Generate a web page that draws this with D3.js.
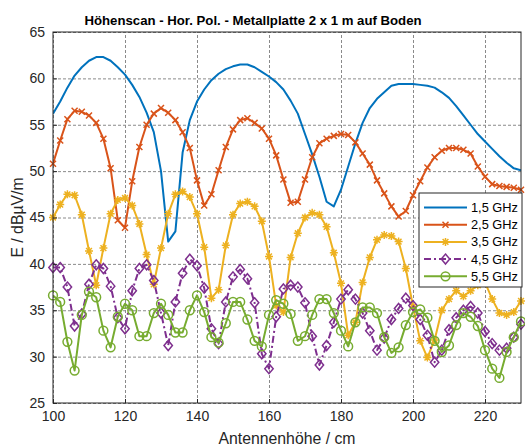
<!DOCTYPE html>
<html>
<head>
<meta charset="utf-8">
<script src="https://cdn.jsdelivr.net/npm/d3@7"></script>
<style>
  body { margin: 0; background: #fff; }
  svg { font-family: "Liberation Sans", Arial, sans-serif; }
</style>
</head>
<body>
<div class="chart"></div>
<script>
// antenna heights in cm
var heights = [100, 102, 104, 106, 108, 110, 112, 114, 116, 118, 120, 122, 124, 126, 128, 130, 132, 134, 136, 138,
  140, 142, 144, 146, 148, 150, 152, 154, 156, 158, 160, 162, 164, 166, 168, 170, 172, 174, 176, 178,
  180, 182, 184, 186, 188, 190, 192, 194, 196, 198, 200, 202, 204, 206, 208, 210, 212, 214, 216, 218,
  220, 222, 224, 226, 228, 230];

// field strength in dBuV/m per frequency
var e15 = [56.2, 57.5, 59, 60.3, 61.2, 61.9, 62.3, 62.3, 61.9, 61.2, 60.4, 59.3, 58, 56.3, 54.2, 50, 42.4, 43.5, 52, 55.5,
  57.5, 58.8, 59.8, 60.5, 61, 61.3, 61.5, 61.5, 61.2, 60.7, 60.2, 59.6, 58.8, 57.6, 56.2, 54, 51.8, 49.4, 46.7, 46.2,
  48, 50.5, 53, 55.2, 56.8, 57.8, 58.5, 59.2, 59.4, 59.4, 59.4, 59.3, 59.2, 59, 58.5, 57.9, 57, 56, 55, 54,
  53.2, 52.4, 51.6, 50.9, 50.3, 50.1];
var e25 = [50.8, 53.3, 55.6, 56.5, 56.4, 56, 55.2, 53.5, 50.3, 44.7, 43.9, 48.9, 52.6, 55, 56.2, 56.8, 56.3, 55.5, 54.2, 52.5,
  49, 46.3, 47.5, 50.1, 52.6, 54.5, 55.5, 55.7, 55.2, 54.6, 53.5, 51.7, 49.1, 46.6, 46.7, 49.1, 51.5, 53, 53.5, 53.8,
  54, 53.9, 53.1, 51.9, 50.7, 49, 47.6, 46.2, 45.1, 45.7, 47.4, 48.9, 50.4, 51.5, 52.2, 52.5, 52.5, 52.3, 51.9, 50.5,
  49.4, 48.6, 48.4, 48.3, 48.2, 48];
var e35 = [45, 46.4, 47.5, 47.4, 45.3, 41.4, 37.7, 41.7, 45.4, 46.9, 47.1, 46.3, 44.3, 41, 37.8, 41.7, 45.4, 47.5, 47.8, 47.2,
  45.4, 41.8, 36.3, 37.2, 42, 45.3, 46.5, 46.7, 46.2, 44.6, 40.8, 35.5, 34.8, 40.7, 43.3, 45, 45.5, 45.3, 44, 41.2,
  37.9, 32.3, 33.7, 38, 40.7, 42.6, 43.1, 43, 42.4, 39.5, 35.4, 31.7, 29.9, 31.8, 35, 36.2, 37.1, 36.5, 37.1, 37.7,
  38, 36.2, 34.7, 34.5, 34.8, 36];
var e45 = [39.6, 39.6, 37.5, 33.3, 34.6, 37.8, 39.9, 39.5, 37.6, 34.2, 33, 37.1, 39.5, 39.9, 38.2, 34.7, 31.2, 35.9, 39, 40.5,
  39.8, 37.4, 33, 31.4, 35.9, 38.6, 39.4, 38.4, 35.8, 30.3, 28.7, 34.3, 37.3, 37.7, 37.5, 35.8, 32.2, 29.1, 31.2, 33.7,
  36.2, 37.2, 36.2, 34.7, 32.8, 30.7, 32, 34, 35.2, 36.3, 35.5, 34, 32.3, 29.4, 30.7, 32.9, 34.2, 35, 35.4, 34.7,
  32.7, 31.4, 30.7, 30.9, 32.1, 33.5];
var e55 = [36.6, 35.9, 31.6, 28.5, 34.5, 37, 36.4, 32.8, 31, 34.3, 35.7, 35, 32.2, 32.2, 34.7, 35.7, 34.5, 32.6, 32.6, 35,
  36.6, 34.8, 32.1, 31.5, 33.6, 35.9, 35.9, 34, 31.7, 31.1, 34.5, 36.1, 35.7, 34.6, 31.7, 32.2, 34.5, 36.2, 36.2, 34.7,
  32.8, 31.1, 33.7, 35.3, 35.3, 34.7, 32.1, 30.4, 31, 33.4, 34.8, 35.1, 34.2, 31.7, 30.5, 31.2, 33.4, 34.7, 34.3, 33.3,
  30.7, 28.7, 27.7, 30.5, 32.1, 33.8];

var seriesNames = ["1,5 GHz", "2,5 GHz", "3,5 GHz", "4,5 GHz", "5,5 GHz"];
var xTicks = [100, 120, 140, 160, 180, 200, 220];
var yTicks = [25, 30, 35, 40, 45, 50, 55, 60, 65];

var svgWidth = 525;
var svgHeight = 448;
var margin = { top: 32, right: 4, bottom: 45, left: 53 };
var width = svgWidth - margin.left - margin.right;
var height = svgHeight - margin.top - margin.bottom;

// matlab default colours, markers and line styles
var colors = ["#0072BD", "#D95319", "#EDB120", "#7E2F8E", "#77AC30"];
var markers = ["none", "x", "star", "diamond", "circle"];
var dashes = [null, null, null, "7,3,2,3", null];
var allSeries = [e15, e25, e35, e45, e55];

var svg = d3.select(".chart")
  .append("svg")
  .attr("width", svgWidth)
  .attr("height", svgHeight);

var chartGroup = svg.append("g")
  .attr("transform", `translate(${margin.left}, ${margin.top})`);

var xScale = d3.scaleLinear().domain([100, 230]).range([0, width]);
var yScale = d3.scaleLinear().domain([25, 65]).range([height, 0]);

// dashed grid
chartGroup.append("g")
  .attr("transform", `translate(0, ${height})`)
  .call(d3.axisBottom(xScale).tickValues(xTicks).tickSize(-height).tickFormat(""))
  .call(g => g.select(".domain").remove())
  .call(g => g.selectAll("line").attr("stroke", "#8a8a8a").attr("stroke-dasharray", "3,2"));

chartGroup.append("g")
  .call(d3.axisLeft(yScale).tickValues(yTicks).tickSize(-width).tickFormat(""))
  .call(g => g.select(".domain").remove())
  .call(g => g.selectAll("line").attr("stroke", "#8a8a8a").attr("stroke-dasharray", "3,2"));

svg.append("defs").append("clipPath")
  .attr("id", "plotClip")
  .append("rect")
  .attr("width", width)
  .attr("height", height);

var line = d3.line()
  .x((d, i) => xScale(heights[i]))
  .y(d => yScale(d));

function drawMarker(g, type, color) {
  if (type === "x") {
    g.append("path").attr("d", "M-3,-3L3,3M-3,3L3,-3")
      .attr("stroke", color).attr("stroke-width", 1.5).attr("fill", "none");
  } else if (type === "star") {
    g.append("path").attr("d", "M-4,0L4,0M0,-4L0,4M-2.9,-2.9L2.9,2.9M-2.9,2.9L2.9,-2.9")
      .attr("stroke", color).attr("stroke-width", 1.5).attr("fill", "none");
  } else if (type === "diamond") {
    g.append("path").attr("d", "M0,-5L4.2,0L0,5L-4.2,0Z")
      .attr("stroke", color).attr("stroke-width", 1.5).attr("fill", "none");
  } else if (type === "circle") {
    g.append("circle").attr("r", 4.4)
      .attr("stroke", color).attr("stroke-width", 1.5).attr("fill", "none");
  }
}

allSeries.forEach(function(values, k) {
  var group = chartGroup.append("g");

  group.append("path")
    .datum(values)
    .attr("clip-path", "url(#plotClip)")
    .attr("fill", "none")
    .attr("stroke", colors[k])
    .attr("stroke-width", 2)
    .attr("stroke-linejoin", "round")
    .attr("stroke-dasharray", dashes[k])
    .attr("d", line);

  if (markers[k] !== "none") {
    group.selectAll(".mk")
      .data(values)
      .enter()
      .append("g")
      .attr("transform", (d, i) => `translate(${xScale(heights[i])}, ${yScale(d)})`)
      .each(function() { drawMarker(d3.select(this), markers[k], colors[k]); });
  }
});

// box and tick labels
chartGroup.append("rect")
  .attr("width", width)
  .attr("height", height)
  .attr("fill", "none")
  .attr("stroke", "#262626")
  .attr("stroke-width", 1);

var xAxis = chartGroup.append("g")
  .attr("transform", `translate(0, ${height})`)
  .call(d3.axisBottom(xScale).tickValues(xTicks).tickSize(-4).tickPadding(8));
var yAxis = chartGroup.append("g")
  .call(d3.axisLeft(yScale).tickValues(yTicks).tickSize(-4).tickPadding(8));

[xAxis, yAxis].forEach(function(ax) {
  ax.select(".domain").remove();
  ax.selectAll("line").attr("stroke", "#262626");
  ax.selectAll("text")
    .attr("fill", "#262626")
    .style("font-size", "14px")
    .style("font-family", "Liberation Sans, Arial, sans-serif");
});

// title and axis labels
svg.append("text")
  .attr("x", 253)
  .attr("y", 25)
  .attr("text-anchor", "middle")
  .style("font-size", "13.2px")
  .style("font-weight", "bold")
  .attr("fill", "#000")
  .text("Höhenscan - Hor. Pol. - Metallplatte 2 x 1 m auf Boden");

svg.append("text")
  .attr("x", margin.left + width / 2)
  .attr("y", 444)
  .attr("text-anchor", "middle")
  .style("font-size", "15.8px")
  .attr("fill", "#262626")
  .text("Antennenhöhe / cm");

svg.append("text")
  .attr("transform", `translate(23, ${margin.top + height / 2}) rotate(-90)`)
  .attr("text-anchor", "middle")
  .style("font-size", "15.8px")
  .attr("fill", "#262626")
  .text("E / dBµV/m");

// legend
var legend = svg.append("g").attr("transform", "translate(419, 193)");
legend.append("rect")
  .attr("width", 103)
  .attr("height", 94)
  .attr("fill", "#fff")
  .attr("stroke", "#262626")
  .attr("stroke-width", 1);

seriesNames.forEach(function(name, k) {
  var row = legend.append("g").attr("transform", `translate(0, ${14.5 + k * 17.2})`);
  row.append("line")
    .attr("x1", 5).attr("x2", 48)
    .attr("stroke", colors[k])
    .attr("stroke-width", 2)
    .attr("stroke-dasharray", dashes[k]);
  drawMarker(row.append("g").attr("transform", "translate(26.5, 0)"), markers[k], colors[k]);
  row.append("text")
    .attr("x", 52)
    .attr("dy", "0.35em")
    .style("font-size", "12.8px")
    .attr("fill", "#000")
    .text(name);
});
</script>
</body>
</html>
